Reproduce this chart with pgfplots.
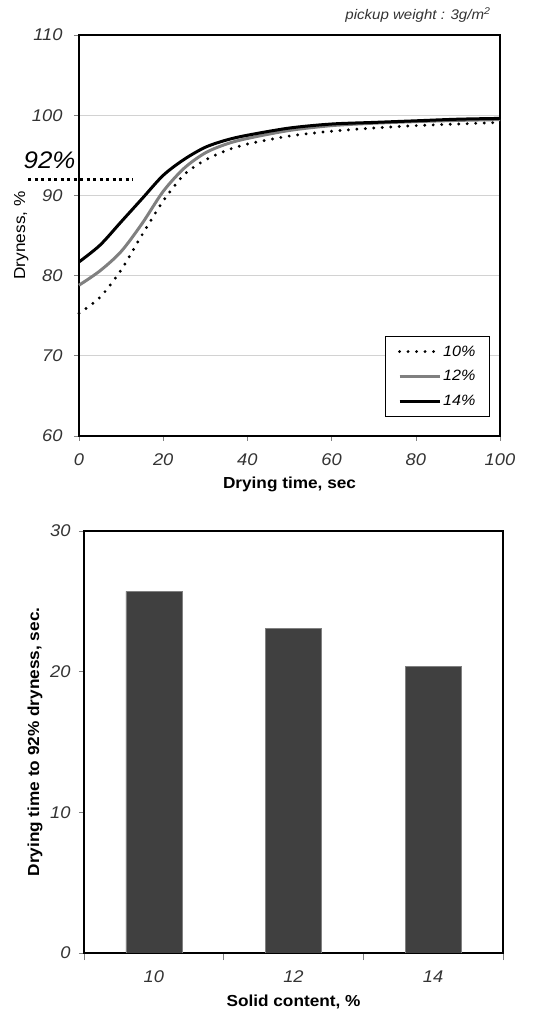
\documentclass[border=0pt]{standalone}
\usepackage{fontspec}
\setmainfont{Liberation Sans}[FakeStretch=1.08]
\usepackage{pgfplots}
\pgfplotsset{compat=1.18}
\begin{document}
\begin{tikzpicture}
\useasboundingbox (0bp,0bp) rectangle (542bp,1011bp);
\node[anchor=east, font=\fontsize{14}{14}\selectfont\itshape, text=black!80] at (494bp,996bp) {pickup weight : 3g/m\textsuperscript{2}};
\begin{axis}[
 at={(79bp,575bp)}, anchor=south west, scale only axis, width=421bp, height=401bp,
 xmin=0, xmax=100, ymin=60, ymax=110,
 xtick={0,20,...,100}, ytick={60,70,...,110},
 axis line style={line width=2.5bp},
 tick align=outside, xtick pos=bottom, ytick pos=left, major tick length=5bp,
 tick style={gray, line width=0.6bp},
 ymajorgrids, major grid style={gray!35, line width=0.6bp},
 ticklabel style={font=\fontsize{17}{17}\selectfont\itshape, text=black!80},
 yticklabel style={xshift=-8bp},
 xticklabel style={yshift=-9bp},
 /pgf/number format/assume math mode=true,
 clip=false,
 xlabel={Drying time, sec}, ylabel={Dryness, \%},
 xlabel style={at={(axis description cs:0.5,-0.12)}, anchor=center, font=\fontsize{16}{16}\selectfont\bfseries},
 ylabel style={at={(axis description cs:-0.137,0.5)}, anchor=center, font=\fontsize{16}{16}\selectfont},
 legend style={at={(0.976,0.249)}, anchor=north east, draw=black, line width=1bp, font=\fontsize{15}{15}\selectfont\itshape, row sep=9bp, inner xsep=12bp, inner ysep=7bp, cells={anchor=west}},
 legend image code/.code={\draw[#1] (0bp,0bp) -- (40bp,0bp);},
]
\addplot[black, line width=3.2bp, dash pattern=on 0bp off 8.5bp, line cap=round, smooth] coordinates {
(0,75.3) (5,77.3) (10,80.7) (15,85.1) (20,89.3) (25,92.6) (30,94.4) (35,95.6) (40,96.4) (50,97.4) (60,98.0) (70,98.4) (80,98.7) (90,98.9) (100,99.1)};
\addlegendentry{10\%}
\addplot[gray, line width=3bp, smooth] coordinates {
(0,78.8) (5,80.6) (10,83.0) (15,86.5) (20,90.5) (25,93.4) (30,95.3) (35,96.4) (40,97.1) (50,98.1) (60,98.7) (70,99.0) (80,99.2) (90,99.35) (100,99.45)};
\addlegendentry{12\%}
\addplot[black, line width=3bp, smooth] coordinates {
(0,81.7) (5,83.8) (10,86.7) (15,89.6) (20,92.5) (25,94.5) (30,96.0) (35,96.9) (40,97.5) (50,98.4) (60,98.9) (70,99.1) (80,99.3) (90,99.5) (100,99.6)};
\addlegendentry{14\%}
\draw[black, line width=3bp, dash pattern=on 3bp off 3.5bp] (axis cs:-12.1,92) -- (axis cs:12.8,92);
\node[font=\fontsize{24}{24}\selectfont\itshape] at (axis cs:-7,94.4) {92\%};
\end{axis}
\begin{axis}[
 at={(84bp,58bp)}, anchor=south west, scale only axis, width=419bp, height=422bp,
 xmin=0, xmax=3, ymin=0, ymax=30,
 xtick={0.5,1.5,2.5}, xticklabels={10,12,14}, minor xtick={0,1,2,3},
 ytick={0,10,20,30},
 axis line style={line width=2.5bp},
 tick align=outside, xtick pos=bottom, ytick pos=left,
 major tick length=5bp, minor tick length=7bp,
 tick style={gray, line width=0.6bp},
 major x tick style={draw=none},
 ticklabel style={font=\fontsize{17}{17}\selectfont\itshape, text=black!80},
 yticklabel style={xshift=-5bp},
 xticklabel style={yshift=-9bp},
 /pgf/number format/assume math mode=true,
 xlabel={Solid content, \%}, ylabel={Drying time to 92\%  dryness, sec.},
 xlabel style={at={(axis description cs:0.5,-0.116)}, anchor=center, font=\fontsize{16}{16}\selectfont\bfseries},
 ylabel style={at={(axis description cs:-0.117,0.5)}, anchor=center, font=\fontsize{16}{16}\selectfont\bfseries},
]
\addplot[ybar, bar width=0.4, fill=black!75, draw=gray] coordinates {(0.5,25.7) (1.5,23.1) (2.5,20.4)};
\end{axis}
\end{tikzpicture}
\end{document}
